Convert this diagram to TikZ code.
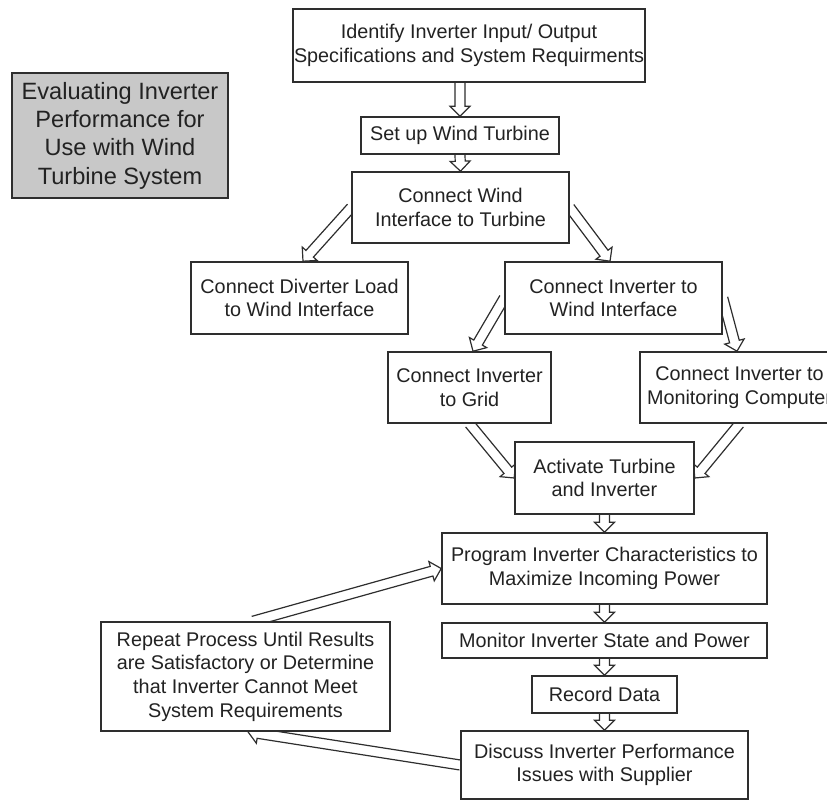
\documentclass[tikz,border=0pt]{standalone}
\usepackage{fontspec}
\setmainfont{Liberation Sans}
\usetikzlibrary{calc,backgrounds}

\definecolor{inkc}{HTML}{222222}
\definecolor{linec}{HTML}{2E2E2E}
\definecolor{titlefill}{HTML}{C8C8C8}

\tikzset{
  stepbox/.style={draw=linec, line width=1.6pt, fill=white, text=inkc,
    align=center, inner sep=0pt, anchor=center,
    font=\fontsize{19.8}{23.6}\selectfont},
  titlebox/.style={stepbox, fill=titlefill,
    font=\fontsize{23.6}{28.3}\selectfont},
  % hollow block arrow from the start point to the target point
  blk/.style={draw=linec, line width=1.2pt, fill=white, line join=miter,
    to path={let \p1=($(\tikztotarget)!10pt!(\tikztostart)$) in
      ($(\tikztostart)!5pt!90:(\tikztotarget)$)
      -- ($(\p1)!5pt!90:(\tikztotarget)$)
      -- ($(\p1)!10pt!90:(\tikztotarget)$)
      -- (\tikztotarget)
      -- ($(\p1)!10pt!-90:(\tikztotarget)$)
      -- ($(\p1)!5pt!-90:(\tikztotarget)$)
      -- ($(\tikztostart)!5pt!-90:(\tikztotarget)$)}}
}

\begin{document}
\begin{tikzpicture}[x=1pt, y=-1pt]
\useasboundingbox (0,0) rectangle (827,801);

% title
\node[titlebox, minimum width=216pt, minimum height=125pt] (title) at (120,135.5)
  {Evaluating Inverter\\Performance for\\Use with Wind\\Turbine System};

% process steps
\node[stepbox, minimum width=352pt, minimum height=73pt] (spec) at (469,45.5)
  {Identify Inverter Input/ Output\\Specifications and System Requirments};
\node[stepbox, minimum width=198pt, minimum height=37pt] (setup) at (460,135.5)
  {Set up Wind Turbine};
\node[stepbox, minimum width=217pt, minimum height=71pt] (cwind) at (460.5,207.5)
  {Connect Wind\\Interface to Turbine};
\node[stepbox, minimum width=217pt, minimum height=72pt] (divert) at (299.5,298)
  {Connect Diverter Load\\to Wind Interface};
\node[stepbox, minimum width=217pt, minimum height=72pt] (cinv) at (613.5,298)
  {Connect Inverter to\\Wind Interface};
\node[stepbox, minimum width=163pt, minimum height=71pt] (grid) at (469.5,387.5)
  {Connect Inverter\\to Grid};
\node[stepbox, minimum width=199pt, minimum height=71pt] (moncomp) at (739.5,387.5)
  {Connect Inverter to\\Monitoring Computer};
\node[stepbox, minimum width=179pt, minimum height=72pt] (activate) at (604.5,478)
  {Activate Turbine\\and Inverter};
\node[stepbox, minimum width=325pt, minimum height=71pt] (program) at (604.5,568.5)
  {Program Inverter Characteristics to\\Maximize Incoming Power};
\node[stepbox, minimum width=325pt, minimum height=35pt] (monitor) at (604.5,640.5)
  {Monitor Inverter State and Power};
\node[stepbox, minimum width=145pt, minimum height=37pt] (record) at (604.5,694.5)
  {Record Data};
\node[stepbox, minimum width=287pt, minimum height=68pt] (discuss) at (604.5,765)
  {Discuss Inverter Performance\\Issues with Supplier};
\node[stepbox, minimum width=289pt, minimum height=109pt] (repeat) at (245.5,676.5)
  {Repeat Process Until Results\\are Satisfactory or Determine\\that Inverter Cannot Meet\\System Requirements};

% arrow end points on the box edges
\coordinate (specout) at (setup.north |- spec.south);
\coordinate (divin) at ([xshift=3.5pt]divert.north);
\coordinate (cinvin) at ([xshift=-3.5pt]cinv.north);
\coordinate (gridin) at ([xshift=3.5pt]grid.north);
\coordinate (moncin) at ([xshift=-2.5pt]moncomp.north);
\coordinate (repout) at ([xshift=7.5pt]repeat.north);
\coordinate (repin) at ([xshift=2.5pt]repeat.south);

\begin{pgfonlayer}{background}
\draw[blk] (specout) to (setup.north);
\draw[blk] (setup.south) to (cwind.north);
\draw[blk] (cwind.west) to (divin);
\draw[blk] (cwind.east) to (cinvin);
\draw[blk] (cinv.west) to (gridin);
\draw[blk] (cinv.east) to (moncin);
\draw[blk] (grid.south) to (activate.west);
\draw[blk] (moncomp.south) to (activate.east);
\draw[blk] (activate.south) to (program.north);
\draw[blk] (program.south) to (monitor.north);
\draw[blk] (monitor.south) to (record.north);
\draw[blk] (record.south) to (discuss.north);
\draw[blk] (repout) to (program.west);
\draw[blk] (discuss.west) to (repin);
\end{pgfonlayer}
\end{tikzpicture}
\end{document}
